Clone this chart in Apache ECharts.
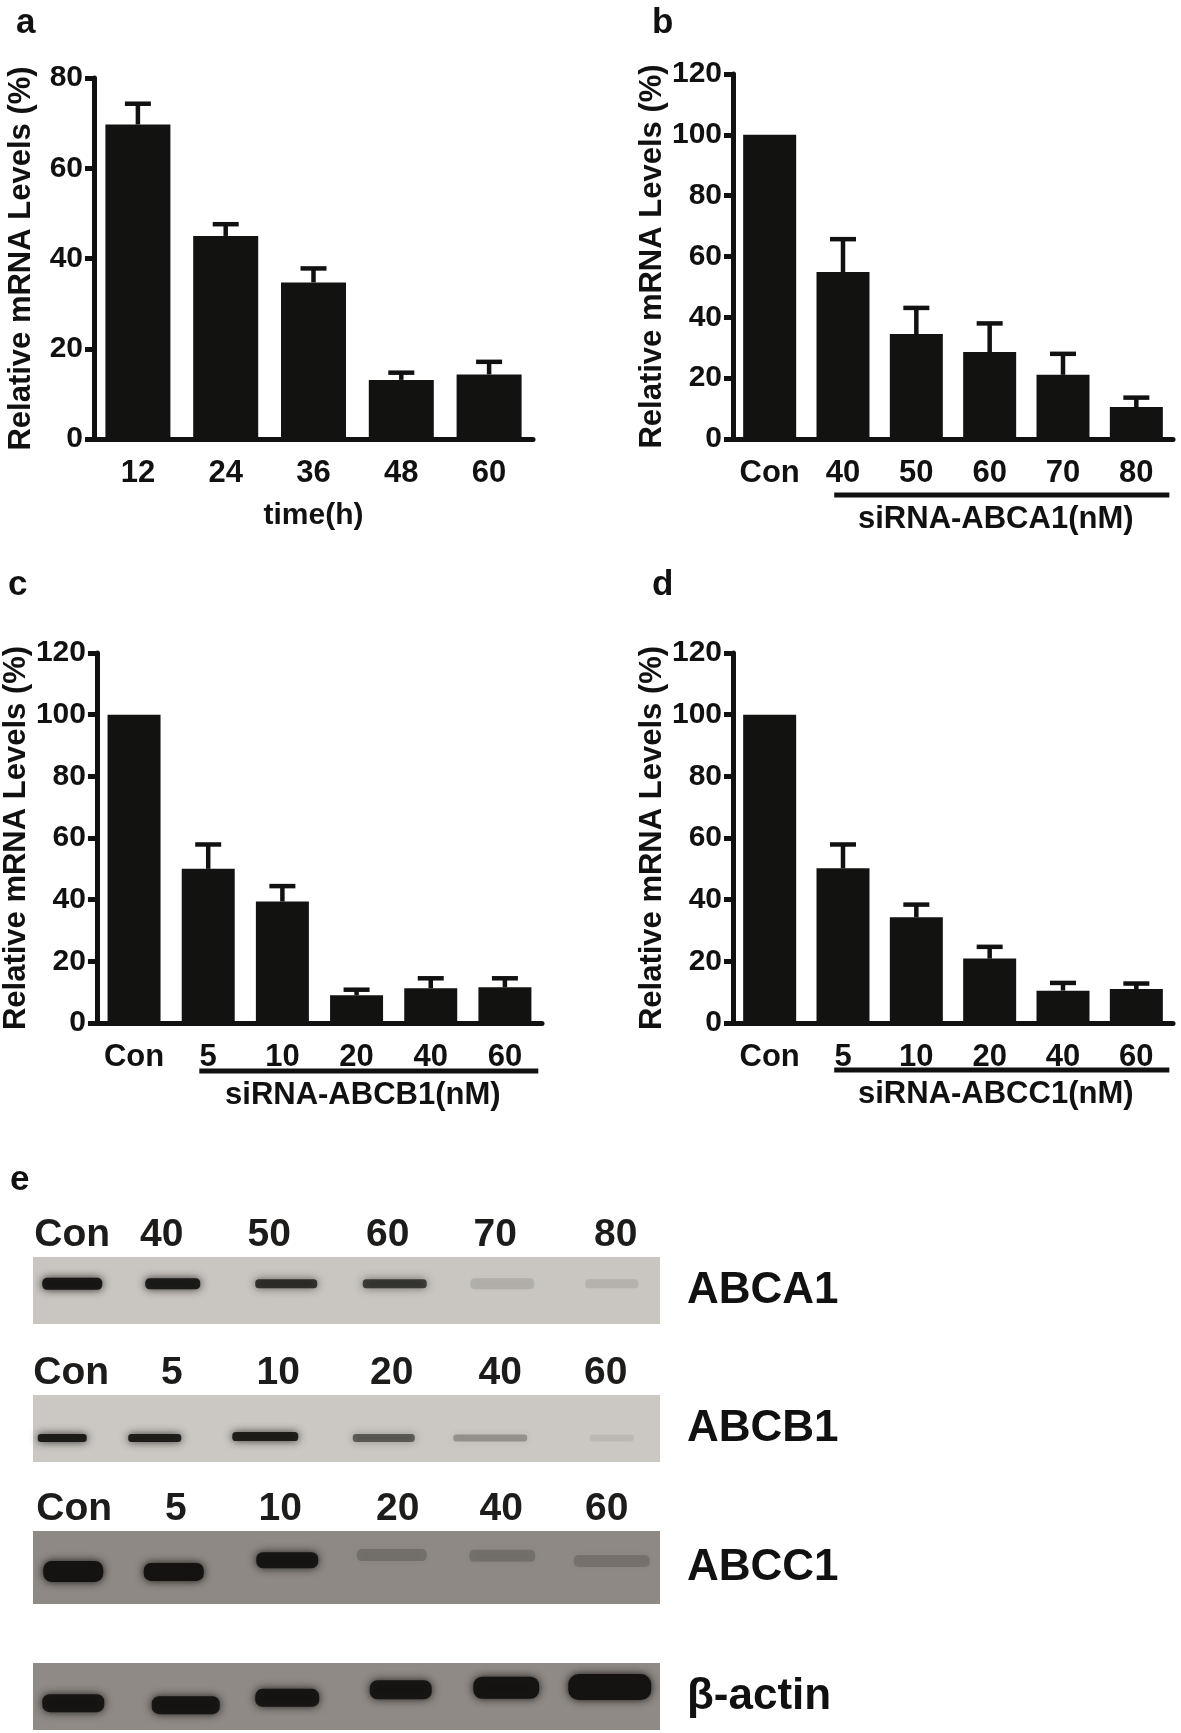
<!DOCTYPE html>
<html>
<head>
<meta charset="utf-8">
<script src="https://cdn.jsdelivr.net/npm/echarts@6/dist/echarts.min.js"></script>
<style>
  html, body { margin: 0; padding: 0; background: #fff; }
  #chart { width: 1181px; height: 1733px; }
</style>
</head>
<body>
<div id="chart"></div>
<script>
// a: knockdown over time
const timeCats = ['12', '24', '36', '48', '60'];
const timeMean = [69.7, 45.0, 34.7, 13.1, 14.3];
const timeErr = [4.6, 2.6, 3.1, 1.6, 2.8];

// b: siRNA-ABCA1 dose
const abca1Cats = ['Con', '40', '50', '60', '70', '80'];
const abca1Mean = [100, 54.9, 34.5, 28.6, 21.1, 10.5];
const abca1Err = [0, 10.8, 8.6, 9.4, 6.9, 3.1];

// c: siRNA-ABCB1 dose
const abcb1Cats = ['Con', '5', '10', '20', '40', '60'];
const abcb1Mean = [100, 50.0, 39.4, 9.0, 11.3, 11.6];
const abcb1Err = [0, 7.9, 5.0, 1.8, 3.2, 2.9];

// d: siRNA-ABCC1 dose
const abcc1Cats = ['Con', '5', '10', '20', '40', '60'];
const abcc1Mean = [100, 50.2, 34.3, 20.9, 10.5, 11.0];
const abcc1Err = [0, 7.7, 4.1, 3.8, 2.5, 1.8];

// e: western blot band intensity (0..1)
const blotA1Lanes = ['Con', '40', '50', '60', '70', '80'];
const blotA1Band = [0.95, 0.92, 0.78, 0.72, 0.12, 0.1];
const blotB1Lanes = ['Con', '5', '10', '20', '40', '60'];
const blotB1Band = [0.92, 0.9, 0.9, 0.55, 0.28, 0.08];
const blotC1Lanes = ['Con', '5', '10', '20', '40', '60'];
const blotC1Band = [1, 1, 0.95, 0.2, 0.2, 0.18];
const actinLanes = ['Con', '5', '10', '20', '40', '60'];
const actinBand = [0.95, 0.95, 0.95, 0.95, 0.97, 1];

const FONT = '"Liberation Sans", Arial, sans-serif';
const INK = '#111';
const BAR = '#121210';
const BAND = '20,19,17';

const grids = [], xAxes = [], yAxes = [], series = [];

function errRender(cap) {
  return function (params, api) {
    const e = api.value(2);
    if (!e) return;
    const p0 = api.coord([api.value(0), api.value(1)]);
    const p1 = api.coord([api.value(0), api.value(1) + e]);
    const st = { stroke: INK, lineWidth: 4.5 };
    return {
      type: 'group',
      children: [
        { type: 'line', shape: { x1: p0[0], y1: p0[1], x2: p1[0], y2: p1[1] }, style: st },
        { type: 'line', shape: { x1: p1[0] - cap, y1: p1[1], x2: p1[0] + cap, y2: p1[1] }, style: st }
      ]
    };
  };
}

function bracketRender(label, drop) {
  return function (params, api) {
    const s = api.coord([api.value(0), 0]);
    const e = api.coord([api.value(2), 0]);
    const bw = api.size([1, 0])[0];
    const x1 = s[0] - bw * 0.12, x2 = e[0] + bw * 0.45, y = s[1] + drop;
    return {
      type: 'group',
      children: [
        { type: 'line', shape: { x1: x1, y1: y, x2: x2, y2: y }, style: { stroke: INK, lineWidth: 5 } },
        { type: 'text', style: { text: label, x: (x1 + x2) / 2 - 6, y: y + 24, align: 'center', verticalAlign: 'middle',
          fill: INK, fontSize: 31, fontWeight: 'bold', fontFamily: FONT } }
      ]
    };
  };
}

function barPanel(cats, mean, err, yMax, box) {
  const k = grids.length;
  grids.push({ left: box.left, top: box.top, width: box.width, height: box.height });
  xAxes.push({
    gridIndex: k, type: 'category', data: cats,
    name: box.xName || '', nameLocation: 'middle', nameGap: 62,
    nameTextStyle: { color: INK, fontSize: 30, fontWeight: 'bold', fontFamily: FONT },
    axisLine: { lineStyle: { color: INK, width: 5 } },
    axisTick: { alignWithLabel: true, length: 13, lineStyle: { color: INK, width: 5 } },
    axisLabel: { color: INK, fontSize: 31, fontWeight: 'bold', fontFamily: FONT, margin: 19,
      interval: 0, hideOverlap: false }
  });
  yAxes.push({
    gridIndex: k, type: 'value', min: 0, max: yMax, interval: 20,
    name: 'Relative mRNA Levels (%)', nameLocation: 'middle', nameGap: 57,
    nameTextStyle: { color: INK, fontSize: 31, fontWeight: 'bold', fontFamily: FONT },
    axisLine: { show: true, lineStyle: { color: INK, width: 5 } },
    axisTick: { show: true, length: 9, lineStyle: { color: INK, width: 5 } },
    axisLabel: { color: INK, fontSize: 30, fontWeight: 'bold', fontFamily: FONT, margin: 11 },
    splitLine: { show: false }
  });
  series.push({
    type: 'bar', xAxisIndex: k, yAxisIndex: k, data: mean, barWidth: box.barWidth,
    itemStyle: { color: BAR }
  });
  series.push({
    type: 'custom', xAxisIndex: k, yAxisIndex: k, z: 3,
    data: mean.map((m, i) => [i, m, err[i]]), encode: { x: 0, y: 1 },
    renderItem: errRender(13)
  });
  if (box.bracket) {
    series.push({
      type: 'custom', xAxisIndex: k, yAxisIndex: k, clip: false,
      data: [[1, 0, cats.length - 1]], encode: { x: 0, y: 1 },
      renderItem: bracketRender(box.bracket, box.drop)
    });
  }
}

function bandRender(lay) {
  return function (params, api) {
    const i = params.dataIndex;
    const a = api.value(2);
    const c = api.coord([api.value(0), lay.row[i]]);
    const w = lay.w[i], h = lay.h[i];
    const col = 'rgba(' + BAND + ',' + a + ')';
    return {
      type: 'rect',
      shape: { x: c[0] + lay.dx[i] - w / 2 + 3, y: c[1] - h / 2 + 2, width: w - 6, height: h - 4, r: (h - 4) / 2.5 },
      style: { fill: col, shadowBlur: 9, shadowColor: col }
    };
  };
}

function blotPanel(lanes, bands, label, lay) {
  const k = grids.length;
  grids.push({ left: 33, width: 627, top: lay.top, height: lay.height, show: true,
    backgroundColor: lay.bg, borderWidth: 0 });
  const rich = {};
  (lay.labelDx || []).forEach((d, i) => {
    rich['l' + i] = { fontSize: 39, fontWeight: 'bold', fontFamily: FONT, color: '#1e1c1a',
      padding: d < 0 ? [0, -2 * d, 0, 0] : [0, 0, 0, 2 * d] };
  });
  xAxes.push({
    gridIndex: k, type: 'category', data: lanes, position: 'top',
    axisLine: { show: false }, axisTick: { show: false },
    axisLabel: { show: !!lay.labelDx, margin: 2, interval: 0, hideOverlap: false,
      formatter: (v, i) => '{l' + i + '|' + v + '}', rich: rich }
  });
  yAxes.push({
    gridIndex: k, type: 'value', min: 0, max: 1, position: 'right',
    axisLine: { show: false }, axisTick: { show: false }, axisLabel: { show: false },
    splitLine: { show: false },
    name: label, nameLocation: 'middle', nameRotate: 0, nameGap: 27,
    nameTextStyle: { color: INK, fontSize: 44, fontWeight: 'bold', fontFamily: FONT,
      padding: [lay.nameDrop || 0, 0, 0, 0] }
  });
  series.push({
    type: 'custom', xAxisIndex: k, yAxisIndex: k,
    data: bands.map((v, i) => [i, 0.5, v]), encode: { x: 0, y: 1 },
    renderItem: bandRender(lay)
  });
}

barPanel(timeCats, timeMean, timeErr, 80,
  { left: 94, top: 78, width: 439, height: 361, barWidth: 65, xName: 'time(h)' });
barPanel(abca1Cats, abca1Mean, abca1Err, 120,
  { left: 733, top: 74, width: 440, height: 365, barWidth: 53, bracket: 'siRNA-ABCA1(nM)', drop: 56 });
barPanel(abcb1Cats, abcb1Mean, abcb1Err, 120,
  { left: 92, top: 653, width: 450, height: 370, barWidth: 53, bracket: 'siRNA-ABCB1(nM)', drop: 48 });
barPanel(abcc1Cats, abcc1Mean, abcc1Err, 120,
  { left: 733, top: 653, width: 440, height: 370, barWidth: 53, bracket: 'siRNA-ABCC1(nM)', drop: 47 });

blotPanel(blotA1Lanes, blotA1Band, 'ABCA1', {
  top: 1257, height: 67, bg: '#c9c6c1',
  labelDx: [-13, -28, -25, -11, -8, 8],
  dx: [-13, -17, -8, -4, -1, 4], w: [66, 61, 68, 70, 70, 59], h: [16, 15, 13, 13, 15, 13],
  row: [0.6, 0.6, 0.6, 0.6, 0.6, 0.6]
});
blotPanel(blotB1Lanes, blotB1Band, 'ABCB1', {
  top: 1395, height: 67, bg: '#cbc8c3', nameDrop: 12,
  labelDx: [-14, -18, -16, -7, -3, -2],
  dx: [-23, -35, -29, -15, -13, 4], w: [55, 59, 72, 68, 80, 50], h: [12, 12, 13, 12, 11, 11],
  row: [0.36, 0.36, 0.38, 0.36, 0.36, 0.36]
});
blotPanel(blotC1Lanes, blotC1Band, 'ABCC1', {
  top: 1531, height: 73, bg: '#8e8985',
  labelDx: [-11, -14, -14, -1, -2, -1],
  dx: [-12, -16, -7, -7, -1, 4], w: [66, 66, 68, 76, 72, 82], h: [25, 22, 20, 16, 16, 16],
  row: [0.445, 0.44, 0.6, 0.67, 0.66, 0.59]
});
blotPanel(actinLanes, actinBand, 'β-actin', {
  top: 1663, height: 67, bg: '#8f8a86',
  dx: [-12, -4, -7, 2, 3, 2], w: [68, 74, 70, 68, 72, 89], h: [22, 22, 22, 23, 26, 30],
  row: [0.4, 0.37, 0.48, 0.6, 0.63, 0.64]
});

const letter = (t, l, tp) => ({ text: t, left: l, top: tp,
  textStyle: { color: INK, fontSize: 35, fontWeight: 'bold', fontFamily: FONT } });

const chart = echarts.init(document.getElementById('chart'));
chart.setOption({
  animation: false,
  backgroundColor: '#fff',
  textStyle: { fontFamily: FONT },
  title: [
    letter('a', 11, 1), letter('b', 647, 1),
    letter('c', 3, 563), letter('d', 647, 563),
    letter('e', 5, 1158)
  ],
  grid: grids,
  xAxis: xAxes,
  yAxis: yAxes,
  series: series
});
</script>
</body>
</html>
